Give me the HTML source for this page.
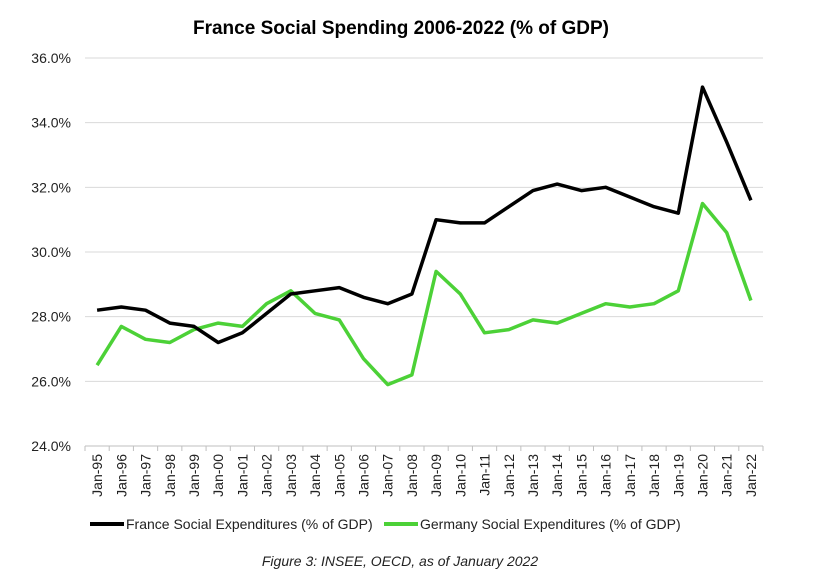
<!DOCTYPE html>
<html><head><meta charset="utf-8"><style>
body{margin:0;background:#fff;width:822px;height:580px;overflow:hidden}
svg{display:block}
text{font-family:"Liberation Sans",sans-serif}
</style></head><body>
<svg id="s" width="822" height="580" xmlns="http://www.w3.org/2000/svg">
<text x="401" y="34" text-anchor="middle" font-size="19" font-weight="bold" fill="#000">France Social Spending 2006-2022 (% of GDP)</text>
<g id="g"></g>
<line x1="90" y1="524" x2="124" y2="524" stroke="#000" stroke-width="4"/>
<text x="126" y="529" font-size="14" fill="#222">France Social Expenditures (% of GDP)</text>
<line x1="384" y1="524" x2="418" y2="524" stroke="#4cd137" stroke-width="4"/>
<text x="420" y="529" font-size="14" fill="#222">Germany Social Expenditures (% of GDP)</text>
<text x="400" y="566" text-anchor="middle" font-size="14" font-style="italic" fill="#222">Figure 3: INSEE, OECD, as of January 2022</text>
</svg>
<script>
var fr=[28.2,28.3,28.2,27.8,27.7,27.2,27.5,28.1,28.7,28.8,28.9,28.6,28.4,28.7,31.0,30.9,30.9,31.4,31.9,32.1,31.9,32.0,31.7,31.4,31.2,35.1,33.4,31.6];
var de=[26.5,27.7,27.3,27.2,27.6,27.8,27.7,28.4,28.8,28.1,27.9,26.7,25.9,26.2,29.4,28.7,27.5,27.6,27.9,27.8,28.1,28.4,28.3,28.4,28.8,31.5,30.6,28.5];
var L=85,R=763,n=28,st=(R-L)/n;
function Y(v){return 446-(v-24)*32.333;}
function X(i){return L+st*(i+0.5);}
var h='';
for(var k=0;k<=6;k++){var v=24+2*k,y=Y(v);
 h+='<line x1="'+L+'" y1="'+y+'" x2="'+R+'" y2="'+y+'" stroke="'+(k==0?'#bfbfbf':'#d9d9d9')+'" stroke-width="1"/>';
 h+='<text x="71" y="'+(y+5)+'" text-anchor="end" font-size="14" fill="#222">'+v.toFixed(1)+'%</text>';}
for(var i=0;i<=n;i++){var x=L+st*i;h+='<line x1="'+x+'" y1="446" x2="'+x+'" y2="451" stroke="#bfbfbf"/>';}
for(var i=0;i<n;i++){var yr=(95+i)%100;var lab='Jan-'+(yr<10?'0':'')+yr;var x=X(i)+5;
 h+='<text transform="translate('+x+',454) rotate(-90)" text-anchor="end" font-size="14" fill="#222">'+lab+'</text>';}
function pl(d,c){var p=d.map(function(v,i){return X(i).toFixed(1)+','+Y(v).toFixed(1)}).join(' ');
 return '<polyline points="'+p+'" fill="none" stroke="'+c+'" stroke-width="3.5" stroke-linejoin="round"/>';}
h+=pl(de,'#4cd137')+pl(fr,'#000');
document.getElementById('g').innerHTML=h;
</script>
</body></html>
